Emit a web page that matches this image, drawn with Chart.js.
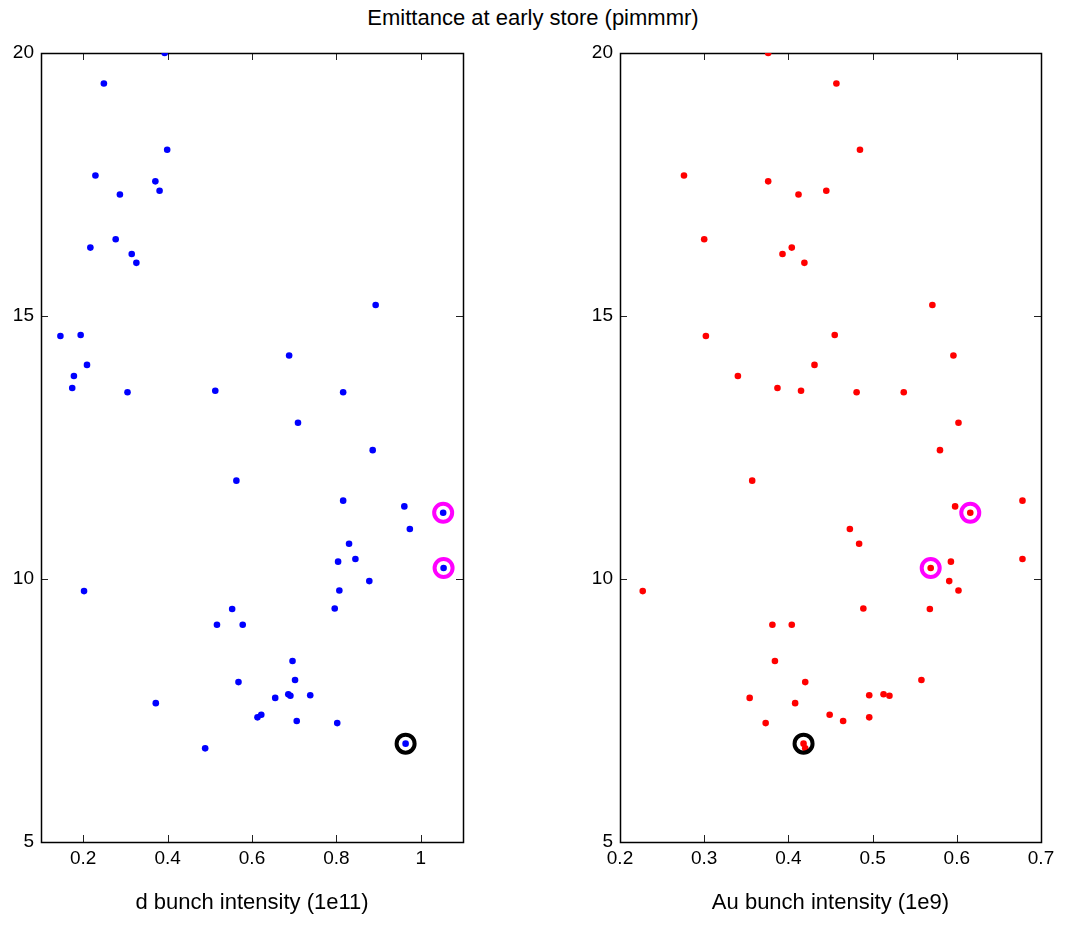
<!DOCTYPE html>
<html>
<head>
<meta charset="utf-8">
<script src="https://cdn.jsdelivr.net/npm/chart.js@4.4.1/dist/chart.umd.min.js"></script>
<style>
  body { margin: 0; background: #fff; }
  #wrap { position: relative; width: 1066px; height: 946px; }
  #title { position: absolute; left: 0; top: 5px; width: 1066px; text-align: center;
           font: 22px "Liberation Sans", Arial, sans-serif; color: #000; }
  .box { position: absolute; top: 0; width: 533px; height: 946px; }
</style>
</head>
<body>
<div id="wrap">
  <div id="title">Emittance at early store (pimmmr)</div>
  <div class="box" style="left:0"><canvas id="dChart"></canvas></div>
  <div class="box" style="left:533px"><canvas id="auChart"></canvas></div>
</div>
<script>
'use strict';

// emittance (pi mm mrad), one entry per store, sorted high to low
let emittance = [20.00, 19.42, 18.16, 17.67, 17.56, 17.38, 17.31, 16.46, 16.30, 16.18,
  16.01, 15.21, 14.64, 14.62, 14.25, 14.07, 13.86, 13.63, 13.58, 13.55,
  13.55, 12.97, 12.45, 11.87, 11.49, 11.38, 11.26, 10.95, 10.67, 10.38,
  10.33, 10.21, 9.96, 9.78, 9.77, 9.44, 9.43, 9.13, 9.13, 8.44,
  8.08, 8.04, 7.81, 7.79, 7.78, 7.74, 7.64, 7.42, 7.37, 7.30,
  7.26, 6.87, 6.78];

// d bunch intensity (1e11)
let dIntensity = [0.393, 0.249, 0.399, 0.229, 0.371, 0.381, 0.287, 0.277, 0.217, 0.315,
  0.326, 0.893, 0.194, 0.146, 0.688, 0.209, 0.178, 0.174, 0.513, 0.305,
  0.816, 0.709, 0.886, 0.563, 0.816, 0.961, 1.053, 0.974, 0.830, 0.845,
  0.804, 1.054, 0.878, 0.807, 0.202, 0.796, 0.553, 0.517, 0.578, 0.696,
  0.702, 0.568, 0.686, 0.738, 0.691, 0.655, 0.372, 0.622, 0.613, 0.706,
  0.802, 0.964, 0.489];

// Au bunch intensity (1e9)
let auIntensity = [0.376, 0.457, 0.485, 0.276, 0.376, 0.445, 0.412, 0.300, 0.404, 0.393,
  0.419, 0.571, 0.455, 0.302, 0.596, 0.431, 0.340, 0.387, 0.415, 0.481,
  0.537, 0.602, 0.580, 0.357, 0.678, 0.598, 0.616, 0.473, 0.484, 0.678,
  0.593, 0.569, 0.591, 0.602, 0.227, 0.489, 0.568, 0.381, 0.404, 0.384,
  0.558, 0.420, 0.513, 0.496, 0.520, 0.354, 0.408, 0.449, 0.496, 0.465,
  0.373, 0.418, 0.420];

// stores marked with rings
let magentaStores = [26, 31];
let blackStores = [51];

let yTicks = [5, 10, 15, 20];
let dTicks = [0.2, 0.4, 0.6, 0.8, 1];
let auTicks = [0.2, 0.3, 0.4, 0.5, 0.6, 0.7];

const FONT = '"Liberation Sans", Arial, sans-serif';

function points (xs, idx) {
  let list = idx || xs.map((v, i) => i);
  return list.map(i => ({ x: xs[i], y: emittance[i] }));
}

// box round the plot with short inward ticks on all four sides
const frameTicks = {
  id: 'frameTicks',
  beforeDatasetsDraw (chart) {
    let { ctx, chartArea: a, scales: { x, y } } = chart;
    ctx.save();
    ctx.strokeStyle = '#222';
    ctx.lineWidth = 1;
    ctx.beginPath();
    x.ticks.forEach(t => {
      let px = Math.round(x.getPixelForValue(t.value)) + 0.5;
      ctx.moveTo(px, a.bottom); ctx.lineTo(px, a.bottom - 7);
      ctx.moveTo(px, a.top); ctx.lineTo(px, a.top + 7);
    });
    y.ticks.forEach(t => {
      let py = Math.round(y.getPixelForValue(t.value)) + 0.5;
      ctx.moveTo(a.left, py); ctx.lineTo(a.left + 7, py);
      ctx.moveTo(a.right, py); ctx.lineTo(a.right - 7, py);
    });
    ctx.stroke();
    ctx.strokeStyle = '#000';
    ctx.lineWidth = 1.5;
    ctx.strokeRect(Math.round(a.left) + 0.5, Math.round(a.top) + 0.5,
      Math.round(a.width), Math.round(a.height));
    ctx.restore();
  }
};

function makeChart (id, xs, color, xTicks, xMin, xMax, xTitle, yWidth, padRight) {
  let ctx = document.getElementById(id).getContext('2d');
  return new Chart(ctx, {
    type: 'scatter',
    data: {
      datasets: [
        { data: points(xs, magentaStores), pointRadius: 9, pointBorderWidth: 4,
          pointBorderColor: '#ff00ff', pointBackgroundColor: 'rgba(0,0,0,0)' },
        { data: points(xs, blackStores), pointRadius: 9, pointBorderWidth: 4,
          pointBorderColor: '#000000', pointBackgroundColor: 'rgba(0,0,0,0)' },
        { data: points(xs), pointRadius: 3.3, pointBorderWidth: 0,
          pointBackgroundColor: color, pointBorderColor: color }
      ]
    },
    options: {
      responsive: true,
      maintainAspectRatio: false,
      animation: false,
      events: [],
      layout: { padding: { left: 0, right: padRight, top: 53, bottom: 0 } },
      plugins: { legend: { display: false }, tooltip: { enabled: false } },
      scales: {
        x: {
          type: 'linear', min: xMin, max: xMax,
          grid: { display: false, drawTicks: false },
          border: { display: false },
          afterBuildTicks: s => { s.ticks = xTicks.map(v => ({ value: v })); },
          afterFit: s => { s.height = 104; },
          ticks: { color: '#000', padding: 5, maxRotation: 0, font: { family: FONT, size: 19 },
            callback: v => String(+v.toFixed(2)) },
          title: { display: true, text: xTitle, color: '#000',
            font: { family: FONT, size: 22 }, padding: { top: 4, bottom: 30 } }
        },
        y: {
          type: 'linear', min: 5, max: 20,
          grid: { display: false, drawTicks: false },
          border: { display: false },
          afterBuildTicks: s => { s.ticks = yTicks.map(v => ({ value: v })); },
          afterFit: s => { s.width = yWidth; },
          ticks: { color: '#000', padding: 7, font: { family: FONT, size: 19 } }
        }
      }
    },
    plugins: [frameTicks]
  });
}

makeChart('dChart', dIntensity, '#0000ff', dTicks, 0.1, 1.1, 'd bunch intensity (1e11)', 41, 70);
makeChart('auChart', auIntensity, '#ff0000', auTicks, 0.2, 0.7, 'Au bunch intensity (1e9)', 87, 25);
</script>
</body>
</html>
